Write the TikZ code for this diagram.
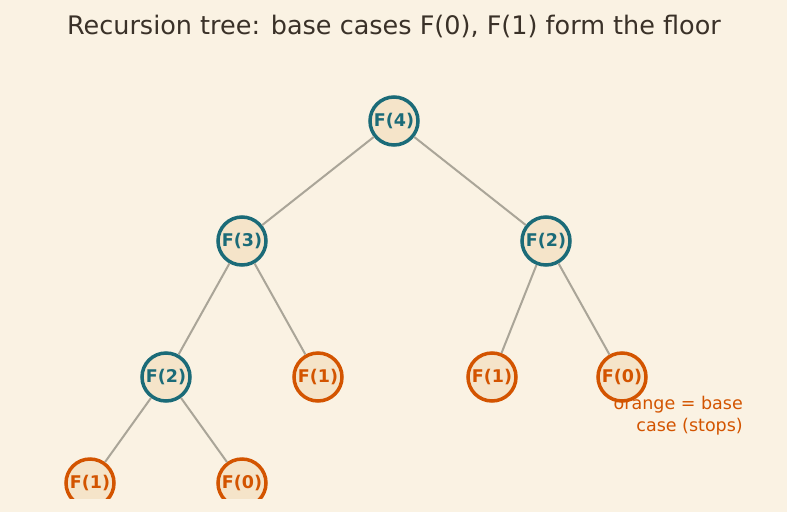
\documentclass[tikz,border=0pt]{standalone}
\usepackage{fontspec}
\setmainfont{DejaVu Sans}
\definecolor{bg}{HTML}{FAF2E3}
\definecolor{nodefill}{HTML}{F5E4C9}
\definecolor{teal}{HTML}{1B6B78}
\definecolor{orng}{HTML}{D35400}
\definecolor{edge}{HTML}{AAA598}
\definecolor{titlec}{HTML}{3A3128}
\tikzset{
  fnode/.style={circle, minimum size=48pt, inner sep=0pt, line width=3.5pt, fill=nodefill, font=\fontsize{17.5}{20}\selectfont\bfseries},
  rec/.style={fnode, draw=teal, text=teal},
  basec/.style={fnode, draw=orng, text=orng},
  link/.style={draw=edge, line width=2pt}
}
\begin{document}
\begin{tikzpicture}[x=1pt,y=-1pt]
\fill[bg] (0,0) rectangle (787,512);
\useasboundingbox (0,0) rectangle (787,512);
\node[font=\fontsize{25.5}{30}\selectfont, text=titlec] (title) at (394,26) {Recursion tree: base cases F(0), F(1) form the floor};
\begin{scope}
\clip (0,0) rectangle (787,498);
\node[rec] (n4) at (394,121) {F(4)};
\node[rec] (n3) at (242,241) {F(3)};
\node[rec] (n2r) at (546,241) {F(2)};
\node[rec] (n2l) at (166,377) {F(2)};
\node[basec] (n1a) at (318,377) {F(1)};
\node[basec] (n1b) at (492,377) {F(1)};
\node[basec] (n0a) at (622,377) {F(0)};
\node[basec] (n1c) at (90,483) {F(1)};
\node[basec] (n0b) at (242,483) {F(0)};
\draw[link] (n4) -- (n3);
\draw[link] (n4) -- (n2r);
\draw[link] (n3) -- (n2l);
\draw[link] (n3) -- (n1a);
\draw[link] (n2r) -- (n1b);
\draw[link] (n2r) -- (n0a);
\draw[link] (n2l) -- (n1c);
\draw[link] (n2l) -- (n0b);
\end{scope}
\node[anchor=north east, align=right, text=orng, font=\fontsize{17.5}{21.5}\selectfont, inner sep=0pt] (legend) at (743,396) {orange = base\\case (stops)};
\end{tikzpicture}
\end{document}
